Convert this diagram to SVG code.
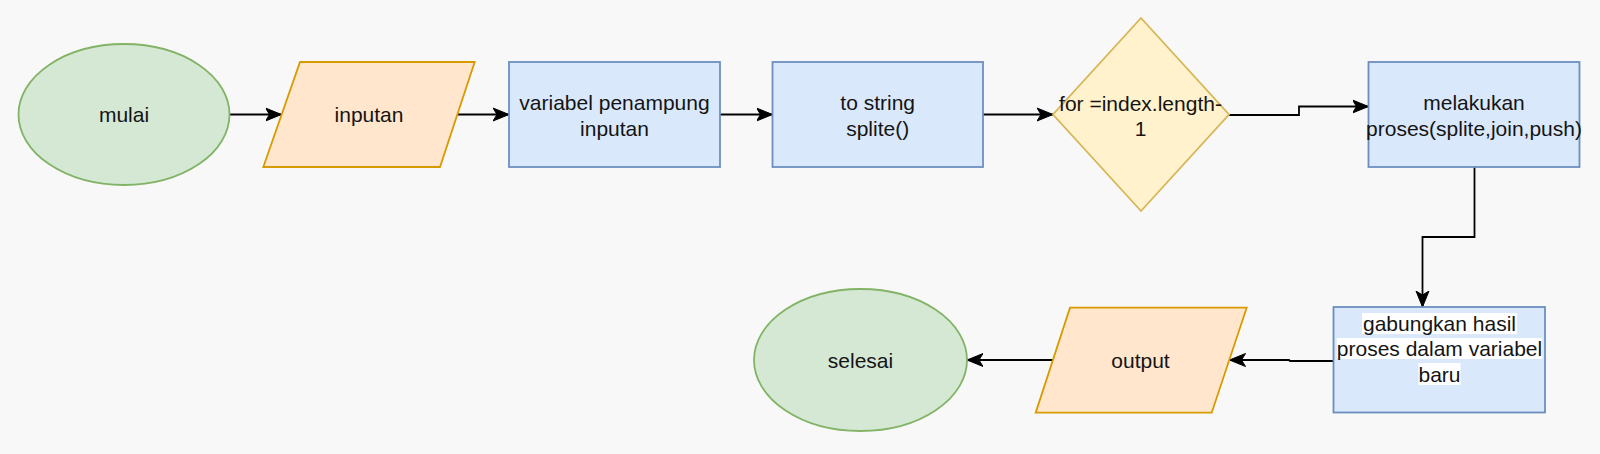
<svg xmlns="http://www.w3.org/2000/svg" width="1600" height="454" viewBox="0 0 1600 454">
<defs>
<style>
.t{font-family:"Liberation Sans",Arial,sans-serif;font-size:21px;fill:#141414;text-anchor:middle}
.term{fill:#d5e8d4;stroke:#82b366;stroke-width:1.8}
.io{fill:#ffe6cc;stroke:#d79b00;stroke-width:1.8}
.proc{fill:#dae8fc;stroke:#6c8ebf;stroke-width:1.8}
.dec{fill:#fff2cc;stroke:#d6b656;stroke-width:1.8}
.edge{fill:none;stroke:#000;stroke-width:1.8;marker-end:url(#arr)}
.lbg{fill:#ffffff}
</style>
<marker id="arr" markerUnits="userSpaceOnUse" markerWidth="18" markerHeight="16" refX="16" refY="7" orient="auto" viewBox="0 0 18 14">
<path d="M16,7 L0,0.5 L4,7 L0,13.5 Z" fill="#000" stroke="#000" stroke-width="1"/>
</marker>
</defs>
<rect x="0" y="0" width="1600" height="454" fill="#f8f8f8"/>

<g id="edges">
<path class="edge" d="M229.5,114.5 H281.5"/>
<path class="edge" d="M457.5,114.5 H509"/>
<path class="edge" d="M720,114.5 H772.5"/>
<path class="edge" d="M983,114.5 H1053"/>
<path class="edge" d="M1229,115 H1299 V106.5 H1368.5"/>
<path class="edge" d="M1474.5,167 V237 H1422.5 V307"/>
<path class="edge" d="M1333.5,361 H1290 L1289,360 H1229.5"/>
<path class="edge" d="M1053,360 H967"/>
</g>

<g id="mulai">
<ellipse class="term" cx="124" cy="114.5" rx="105.5" ry="70.5"/>
<text class="t" x="124" y="122">mulai</text>
</g>

<g id="inputan">
<polygon class="io" points="300,62 474.7,62 440,167 263.3,167"/>
<text class="t" x="369" y="122">inputan</text>
</g>

<g id="variabel">
<rect class="proc" x="509" y="62" width="211" height="105"/>
<text class="t" x="614.5" y="110">variabel penampung</text>
<text class="t" x="614.5" y="135.5">inputan</text>
</g>

<g id="tostring">
<rect class="proc" x="772.5" y="62" width="210.5" height="105"/>
<text class="t" x="877.7" y="110">to string</text>
<text class="t" x="877.7" y="135.5">splite()</text>
</g>

<g id="loop">
<polygon class="dec" points="1141,18 1229,114.5 1141,211 1053,114.5"/>
<text class="t" x="1140.5" y="110.5">for =index.length-</text>
<text class="t" x="1140.5" y="136">1</text>
</g>

<g id="melakukan">
<rect class="proc" x="1368.5" y="62" width="211" height="105"/>
<text class="t" x="1474" y="110">melakukan</text>
<text class="t" x="1474" y="135.5">proses(splite,join,push)</text>
</g>

<g id="gabungkan">
<rect class="proc" x="1333.5" y="307" width="211.5" height="105.5"/>
<rect class="lbg" x="1362" y="313" width="155" height="21"/>
<rect class="lbg" x="1336.8" y="338" width="205.4" height="21"/>
<rect class="lbg" x="1418.5" y="363" width="42" height="22"/>
<text class="t" x="1439.5" y="331">gabungkan hasil</text>
<text class="t" x="1439.5" y="356">proses dalam variabel</text>
<text class="t" x="1439.5" y="381.5">baru</text>
</g>

<g id="output">
<polygon class="io" points="1070,307.7 1246.7,307.7 1211.7,412.7 1035.7,412.7"/>
<text class="t" x="1140.5" y="367.5">output</text>
</g>

<g id="selesai">
<ellipse class="term" cx="860.5" cy="360" rx="106.5" ry="71"/>
<text class="t" x="860.5" y="367.5">selesai</text>
</g>
</svg>
